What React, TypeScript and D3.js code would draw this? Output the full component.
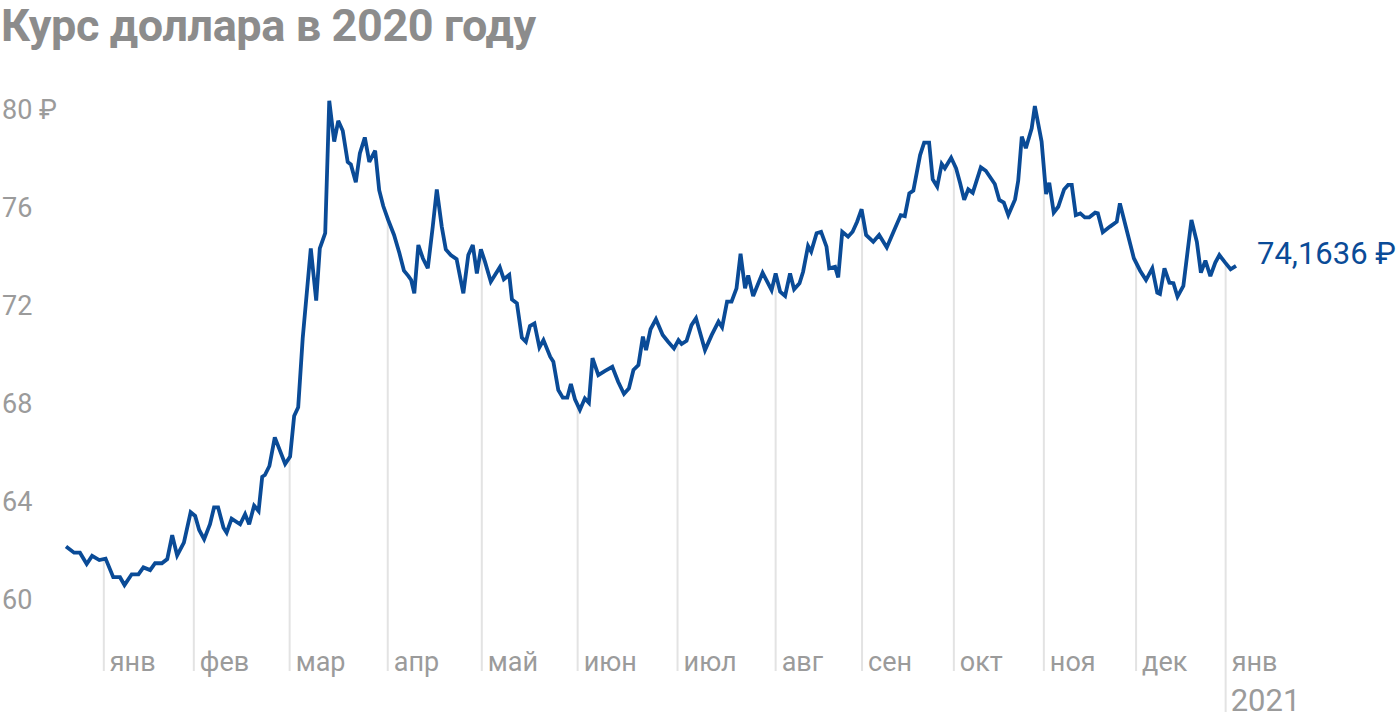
import React from "react";
import * as d3 from "d3";

// trading-session position (index) and USD/RUB rate
const days = [
  0, 1.8, 3.1, 4.6, 5.8, 7.4, 8.8, 10.5, 12.0, 13.0, 14.6, 16.1, 17.2, 18.7, 19.8, 21.3, 22.5, 23.6, 24.7, 26.2,
  27.7, 28.7, 29.6, 30.7, 32.0, 32.9, 33.8, 35.0, 35.7, 36.8, 38.7, 39.8, 40.7, 41.8, 42.8, 43.6, 44.2, 45.2, 46.4, 48.7,
  49.8, 50.7, 51.6, 52.6, 54.4, 55.6, 56.4, 57.6, 58.5, 59.6, 60.5, 61.5, 62.6, 63.3, 64.4, 65.3, 66.4, 67.4, 68.7, 69.6,
  70.5, 71.6, 72.9, 74.1, 75.1, 76.1, 76.7, 77.4, 78.3, 79.3, 80.4, 81.5, 82.4, 83.5, 84.4, 85.5, 86.8, 88.3, 89.4, 90.4,
  91.3, 92.2, 93.1, 94.4, 96.4, 97.3, 98.5, 99.1, 100.2, 101.3, 102.2, 103.1, 104.1, 105.2, 106.1, 107.6, 108.3, 109.4, 110.4, 111.4,
  112.2, 113.1, 114.2, 115.3, 116.2, 117.0, 118.3, 119.8, 121.4, 122.7, 124.0, 125.1, 126.1, 127.2, 128.2, 128.9, 129.9, 131.1, 132.6, 133.8,
  135.1, 136.1, 136.8, 137.9, 139.0, 140.0, 142.0, 143.5, 145.0, 145.8, 146.9, 147.9, 149.0, 149.9, 150.9, 151.6, 152.7, 154.8, 156.8, 157.7,
  158.7, 159.8, 160.9, 161.8, 163.0, 163.8, 164.9, 165.6, 166.8, 167.8, 169.0, 169.6, 170.9, 171.6, 172.5, 173.8, 174.8, 175.8, 176.8, 177.8,
  179.4, 180.7, 182.4, 183.8, 185.5, 186.4, 187.4, 188.3, 189.8, 190.7, 191.8, 192.6, 193.6, 194.6, 195.3, 196.7, 197.8, 198.7, 199.6, 200.5,
  201.5, 203.3, 204.4, 206.4, 207.4, 208.4, 209.4, 210.9, 211.6, 212.4, 213.3, 214.6, 215.3, 216.8, 217.8, 218.5, 219.5, 220.5, 221.8, 222.7,
  223.5, 224.4, 225.4, 226.4, 227.4, 228.7, 229.3, 230.4, 232.0, 233.5, 234.2, 235.7, 237.3, 238.7, 240.0, 241.4, 242.5, 243.1, 244.1, 245.2,
  246.1, 247.0, 248.3, 250.1, 251.3, 252.2, 253.2, 254.3, 255.4, 256.3, 257.6, 258.8, 260.0,
];

const rates = [
  62.18, 61.93, 61.93, 61.47, 61.8, 61.63, 61.69, 60.93, 60.93, 60.61, 61.05, 61.05, 61.33, 61.22, 61.5, 61.5, 61.67, 62.65, 61.82, 62.34,
  63.58, 63.43, 62.86, 62.48, 63.09, 63.78, 63.78, 62.95, 62.75, 63.32, 63.09, 63.5, 63.09, 63.85, 63.63, 65.03, 65.1, 65.47, 66.64, 65.55,
  65.85, 67.51, 67.87, 70.68, 74.35, 72.22, 74.35, 74.97, 80.38, 78.71, 79.56, 79.15, 77.88, 77.78, 77.05, 78.23, 78.88, 77.88, 78.34, 76.73,
  76.08, 75.51, 74.9, 74.15, 73.44, 73.22, 73.06, 72.52, 74.49, 73.95, 73.54, 75.24, 76.76, 75.24, 74.31, 74.08, 73.91, 72.52, 74.08, 74.49,
  73.33, 74.31, 73.81, 72.99, 73.58, 73.09, 73.27, 72.27, 72.11, 70.71, 70.54, 71.18, 71.29, 70.31, 70.61, 69.93, 69.73, 68.57, 68.26, 68.26,
  68.82, 68.19, 67.76, 68.23, 68.05, 69.87, 69.18, 69.35, 69.52, 68.91, 68.41, 68.64, 69.39, 69.59, 70.75, 70.2, 71.05, 71.46, 70.82, 70.54,
  70.27, 70.61, 70.45, 70.58, 71.22, 71.5, 70.2, 70.82, 71.36, 71.13, 72.18, 72.18, 72.72, 74.13, 72.72, 73.25, 72.41, 73.36, 72.65, 73.33,
  72.58, 72.41, 73.33, 72.68, 72.93, 73.4, 74.45, 74.22, 74.97, 75.03, 74.42, 73.54, 73.6, 73.17, 75.03, 74.83, 75.03, 75.44, 75.95, 74.9,
  74.62, 74.9, 74.39, 74.99, 75.71, 75.67, 76.6, 76.71, 78.16, 78.67, 78.67, 77.17, 76.87, 77.8, 77.62, 78.05, 77.62, 77.01, 76.33, 76.76,
  76.62, 77.66, 77.52, 76.98, 76.33, 76.22, 75.71, 76.35, 77.11, 78.91, 78.44, 79.25, 80.16, 78.71, 76.57, 77.03, 75.81, 76.05, 76.76, 76.94,
  76.94, 75.71, 75.78, 75.62, 75.62, 75.81, 75.78, 75.01, 75.24, 75.44, 76.19, 75.1, 73.95, 73.44, 73.06, 73.54, 72.54, 72.49, 73.54, 72.95,
  72.93, 72.38, 72.82, 75.51, 74.62, 73.36, 73.85, 73.22, 73.77, 74.08, 73.77, 73.5, 73.64,
];

const monthLabels = ["янв", "фев", "мар", "апр", "май", "июн", "июл", "авг", "сен", "окт", "ноя", "дек", "янв"];
const monthPos = [8.4, 28.4, 49.7, 71.5, 92.4, 113.7, 135.9, 157.7, 176.9, 197.3, 217.3, 237.8, 257.7];
const yearLabel = "2021";

const yTicks = [60, 64, 68, 72, 76, 80];
const lastValueLabel = "74,1636 ₽";
const lastValue = 74.1636;
const title = "Курс доллара в 2020 году";

const W = 1400;
const H = 720;
const BLUE = "#0a4b97";
const GRAY = "#9b9b9b";
const FONT = "Roboto, 'Noto Sans', sans-serif";

export default function App() {
  const x = d3.scaleLinear().domain([0, 260]).range([66, 1236]);
  const y = d3.scaleLinear().domain([60, 80]).range([600, 110]);

  const pts: [number, number][] = days.map((d, i) => [d, rates[i]]);
  const line = d3
    .line<[number, number]>()
    .x((d) => x(d[0]))
    .y((d) => y(d[1]))
    .curve(d3.curveLinear);

  const valueAt = (t: number) => {
    const i = d3.bisector((d: [number, number]) => d[0]).left(pts, t);
    if (i <= 0) return pts[0][1];
    if (i >= pts.length) return pts[pts.length - 1][1];
    const a = pts[i - 1];
    const b = pts[i];
    const k = (t - a[0]) / (b[0] - a[0]);
    return a[1] + (b[1] - a[1]) * k;
  };

  const last = pts[pts.length - 1];

  return (
    <svg
      width={W}
      height={H}
      style={{ position: "absolute", left: 0, top: 0, display: "block", background: "#fff" }}
    >
      <text
        x={1}
        y={41}
        fontFamily={FONT}
        fontWeight={700}
        fontSize={45}
        fill="#8c8c8c"
        letterSpacing={-0.4}
      >
        {title}
      </text>

      {yTicks.map((v) => (
        <text key={v} x={2} y={y(v) + 9} fontFamily={FONT} fontSize={27} fill={GRAY}>
          {v === 80 ? "80 ₽" : String(v)}
        </text>
      ))}

      {monthPos.map((t, i) => {
        const gx = x(t);
        const isLast = i === monthPos.length - 1;
        return (
          <g key={i}>
            <line
              x1={gx}
              x2={gx}
              y1={y(valueAt(t))}
              y2={isLast ? 712 : 671}
              stroke="#e3e3e3"
              strokeWidth={2}
            />
            <text x={gx + 6} y={671} fontFamily={FONT} fontSize={27} fill={GRAY}>
              {monthLabels[i]}
            </text>
            {isLast && (
              <text x={gx + 5} y={711} fontFamily={FONT} fontSize={31} fill={GRAY}>
                {yearLabel}
              </text>
            )}
          </g>
        );
      })}

      <path
        d={line(pts) || ""}
        fill="none"
        stroke={BLUE}
        strokeWidth={3.8}
        strokeLinejoin="miter"
        strokeMiterlimit={3}
      />

      <text
        x={x(last[0]) + 21}
        y={y(lastValue) + 11}
        fontFamily={FONT}
        fontSize={31}
        fill={BLUE}
      >
        {lastValueLabel}
      </text>
    </svg>
  );
}
